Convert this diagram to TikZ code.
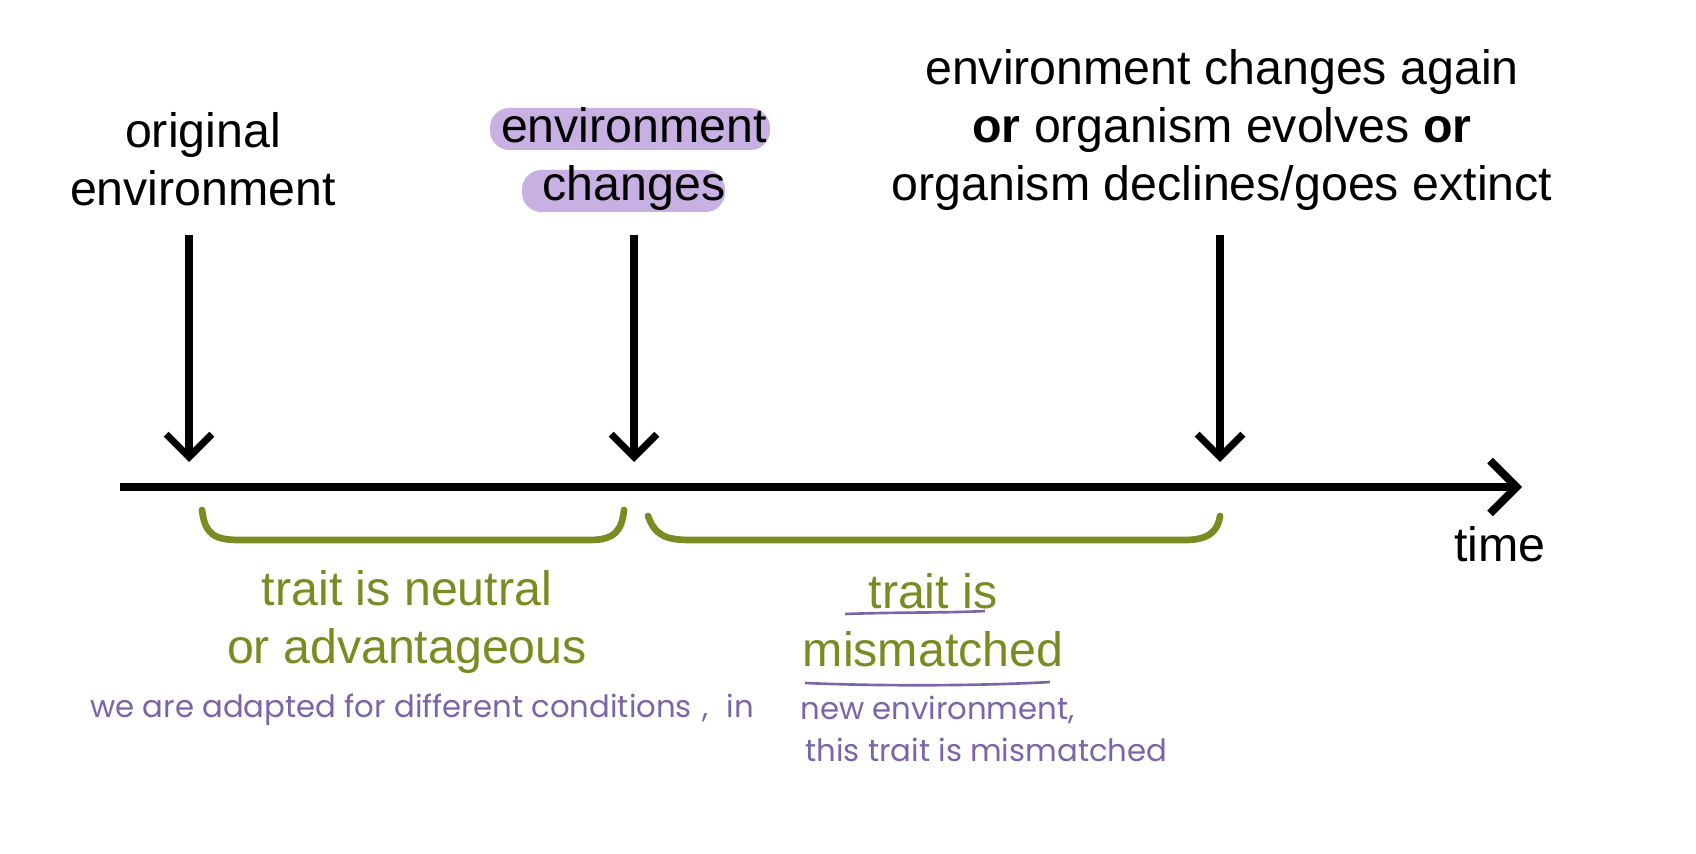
\documentclass[tikz,border=0pt]{standalone}
\usepackage{fontspec}
\setmainfont{Liberation Sans}
\newfontfamily\hand{Poppins}
\usetikzlibrary{arrows.meta}
\definecolor{olive}{HTML}{7C8A22}
\definecolor{hl}{HTML}{C8B0E2}
\definecolor{pen}{HTML}{7A65A8}
\begin{document}
\begin{tikzpicture}[x=0.02cm,y=-0.02cm,
  lbl/.style={font=\fontsize{27.5}{33}\selectfont,align=center,inner sep=0},
  olbl/.style={lbl,text=olive},
  hnd/.style={font=\hand\fontsize{17.5}{21}\selectfont,text=pen,inner sep=0,anchor=west},
  darr/.style={line width=4.2pt,-{Straight Barb[length=13pt,width=26pt,line width=4pt]}},
  brace/.style={olive,line width=3.8pt,line cap=round}]
\useasboundingbox (0,0) rectangle (1696,854);
\fill[hl,rounded corners=11pt] (490,108) rectangle (770,150);
\fill[hl,rounded corners=11pt] (522,170) rectangle (725,212);
\node[lbl] (orig) at (203,159) {original\\environment};
\node[lbl] (chg) at (634,159) {environment\\changes};
\node[lbl] (again) at (1222,130) {environment changes again\\\textbf{or} organism evolves \textbf{or}\\organism declines/goes extinct};
\coordinate (t0) at (120,487);
\coordinate (t1) at (1522,487);
\draw[line width=4.5pt,-{Straight Barb[length=15pt,width=30pt,line width=4.5pt]}] (t0) -- (t1);
\node[lbl,anchor=north] (time) at (1500,526) {time};
\coordinate (a1) at (189,235); \coordinate (b1) at (189,462);
\coordinate (a2) at (634,235); \coordinate (b2) at (634,462);
\coordinate (a3) at (1220,235); \coordinate (b3) at (1220,462);
\draw[darr] (a1) -- (b1);
\draw[darr] (a2) -- (b2);
\draw[darr] (a3) -- (b3);
\draw[brace] (202,510) .. controls (205,535) and (215,540) .. (240,540) -- (590,540) .. controls (615,540) and (622,530) .. (624,510);
\draw[brace] (648,516) .. controls (655,535) and (665,540) .. (690,540) -- (1185,540) .. controls (1210,540) and (1218,530) .. (1220,516);
\node[olbl] (neutral) at (407,622) {trait is neutral\\or advantageous};
\node[olbl] (mism) at (933,620) {trait is\\mismatched};
\draw[pen,line width=1.5pt] (845,614) .. controls (900,612) and (950,613) .. (985,611);
\draw[pen,line width=1.5pt] (805,683) .. controls (900,687) and (1000,685) .. (1050,682);
\node[hnd] (n1) at (90,710) {we are adapted for different conditions\,\,,\,\, in};
\node[hnd] (n2) at (800,710) {new environment,};
\node[hnd] (n3) at (805,750) {this trait is mismatched};
\end{tikzpicture}
\end{document}
